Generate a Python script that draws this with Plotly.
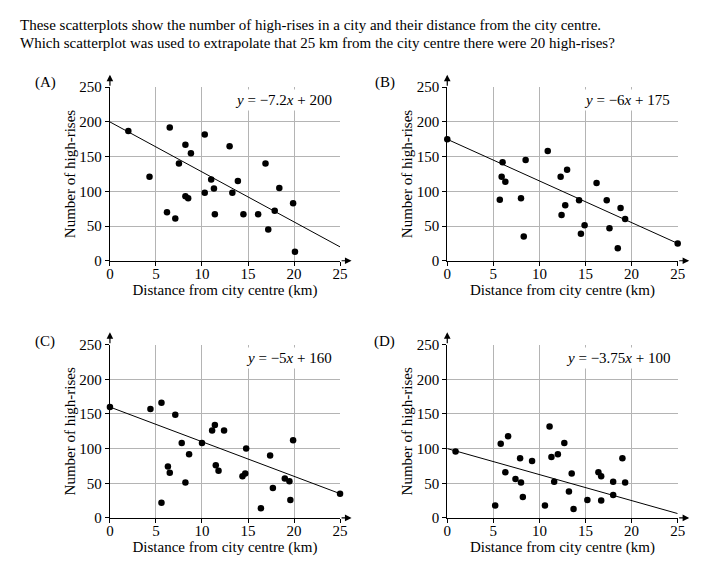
import plotly.graph_objects as go

W, H = 727, 575
FONT = "Liberation Serif"

# ---- data ----
xA = [2, 4.3, 6.5, 6.2, 7.1, 7.5, 8.2, 8.2, 8.5, 8.8, 10.3, 10.3, 11.0, 11.3, 11.4, 13.0, 13.3, 13.9, 14.5, 16.1, 16.9, 17.2, 17.9, 18.4, 19.9, 20.1]
yA = [187, 121, 192, 70, 61, 140, 167, 93, 90, 155, 182, 98, 117, 104, 67, 165, 98, 115, 67, 67, 140, 45, 72, 105, 83, 13]

xB = [0, 6.0, 5.9, 6.3, 5.7, 8.0, 8.3, 8.5, 10.9, 12.3, 13.0, 12.4, 12.8, 14.3, 14.5, 14.9, 16.2, 17.3, 17.6, 18.5, 18.8, 19.3, 25]
yB = [175, 142, 121, 114, 88, 90, 35, 145, 158, 121, 131, 66, 80, 87, 39, 51, 112, 87, 47, 18, 76, 60, 25]

xC = [0, 4.4, 5.6, 5.6, 7.1, 6.3, 6.5, 7.8, 8.2, 8.6, 10.0, 11.1, 11.4, 12.4, 11.5, 11.8, 14.4, 14.7, 14.8, 16.4, 17.4, 17.7, 19.0, 19.5, 19.6, 19.9, 25]
yC = [160, 157, 166, 22, 149, 74, 65, 108, 51, 92, 108, 126, 134, 126, 76, 68, 60, 64, 100, 14, 90, 43, 57, 53, 26, 112, 35]

xD = [0.9, 5.2, 5.8, 6.6, 6.3, 7.4, 7.9, 8.0, 8.2, 9.2, 10.6, 11.1, 11.3, 11.6, 12.0, 12.7, 13.2, 13.5, 13.7, 15.2, 16.4, 16.7, 16.7, 18.0, 18.0, 19.0, 19.3]
yD = [96, 18, 107, 118, 66, 56, 86, 51, 30, 82, 18, 132, 88, 52, 92, 108, 38, 64, 13, 26, 66, 60, 25, 52, 33, 86, 51]

panel_labels = ["(A)", "(B)", "(C)", "(D)"]
slopes = [-7.2, -6, -5, -3.75]
intercepts = [200, 175, 160, 100]
equations = ["<i>y</i> = \u22127.2<i>x</i> + 200", "<i>y</i> = \u22126<i>x</i> + 175",
             "<i>y</i> = \u22125<i>x</i> + 160", "<i>y</i> = \u22123.75<i>x</i> + 100"]
x_ticks = [0, 5, 10, 15, 20, 25]
y_ticks = [0, 50, 100, 150, 200, 250]
x_title = "Distance from city centre (km)"
y_title = "Number of high-rises"
title_lines = ["These scatterplots show the number of high-rises in a city and their distance from the city centre.",
               "Which scatterplot was used to extrapolate that 25 km from the city centre there were 20 high-rises?"]

xs = [xA, xB, xC, xD]
ys = [yA, yB, yC, yD]

# ---- layout geometry (pixels) ----
col_px = [(107.7, 341.7), (450.7, 685.0)]
row_px = [(260.0, 81.5), (524.5, 346.3)]
label_px = [(42, 76.5), (387, 76.5), (42, 343), (387, 343)]

fig = go.Figure()
annotations = []
layout_axes = {}
for i in range(4):
    r, c = divmod(i, 2)
    xn = "x" if i == 0 else f"x{i+1}"
    yn = "y" if i == 0 else f"y{i+1}"
    fig.add_trace(go.Scatter(x=xs[i], y=ys[i], mode="markers", xaxis=xn, yaxis=yn,
                             marker=dict(color="black", size=6.5), showlegend=False, cliponaxis=False))
    lx = [x_ticks[0], x_ticks[-1]]
    ly = [slopes[i] * v + intercepts[i] for v in lx]
    fig.add_trace(go.Scatter(x=lx, y=ly, mode="lines", xaxis=xn, yaxis=yn,
                             line=dict(color="black", width=1), showlegend=False, cliponaxis=False))
    x0, x1 = col_px[c]
    y0, y1 = row_px[r]
    common = dict(showgrid=True, gridcolor="#b4b4b4", gridwidth=1.2, zeroline=False,
                  showline=True, linecolor="black", linewidth=1.2,
                  ticks="outside", ticklen=4, tickcolor="black", tickwidth=1,
                  tickfont=dict(family=FONT, size=15, color="black"))
    layout_axes["xaxis" if i == 0 else f"xaxis{i+1}"] = dict(
        domain=[x0 / W, x1 / W], range=[x_ticks[0], x_ticks[-1]], tickvals=x_ticks,
        anchor=yn, ticklabelstandoff=-5,
        title=dict(text=x_title, font=dict(family=FONT, size=15, color="black"), standoff=0),
        **common)
    layout_axes["yaxis" if i == 0 else f"yaxis{i+1}"] = dict(
        domain=[1 - y0 / H, 1 - y1 / H], range=[y_ticks[0], y_ticks[-1]], tickvals=y_ticks,
        anchor=xn, title=dict(text=y_title, font=dict(family=FONT, size=15, color="black"), standoff=0),
        **common)
    # axis arrows
    annotations.append(dict(x=0, y=268, ax=0, ay=y_ticks[-1], xref=xn, yref=yn, axref=xn, ayref=yn,
                            text="", showarrow=True, arrowhead=2, arrowsize=1.1, arrowwidth=1.2,
                            arrowcolor="black", standoff=0, startstandoff=0))
    annotations.append(dict(x=26.25, y=0, ax=x_ticks[-1], ay=0, xref=xn, yref=yn, axref=xn, ayref=yn,
                            text="", showarrow=True, arrowhead=2, arrowsize=1.1, arrowwidth=1.2,
                            arrowcolor="black", standoff=0, startstandoff=0))
    # equation box
    annotations.append(dict(x=24.5, y=231, xref=xn, yref=yn, text=equations[i], showarrow=False,
                            xanchor="right", yanchor="middle", bgcolor="white", borderpad=2,
                            font=dict(family=FONT, size=15, color="black")))
    # panel label
    lxp, lyp = label_px[i]
    annotations.append(dict(x=lxp / W, y=1 - lyp / H, xref="paper", yref="paper", text=panel_labels[i],
                            showarrow=False, xanchor="center", yanchor="middle",
                            font=dict(family=FONT, size=15, color="black")))

for k, t in enumerate(title_lines):
    annotations.append(dict(x=14 / W, y=1 - (17 + 19 * k) / H, xref="paper", yref="paper", text=t,
                            showarrow=False, xanchor="left", yanchor="middle",
                            font=dict(family=FONT, size=15, color="black")))

fig.update_layout(width=W, height=H, margin=dict(l=0, r=0, t=0, b=0),
                  paper_bgcolor="white", plot_bgcolor="white",
                  annotations=annotations, **layout_axes)
fig.write_html("out.html", config={"displayModeBar": False},
               post_script="document.body.style.margin='0';document.body.style.overflow='hidden';")
